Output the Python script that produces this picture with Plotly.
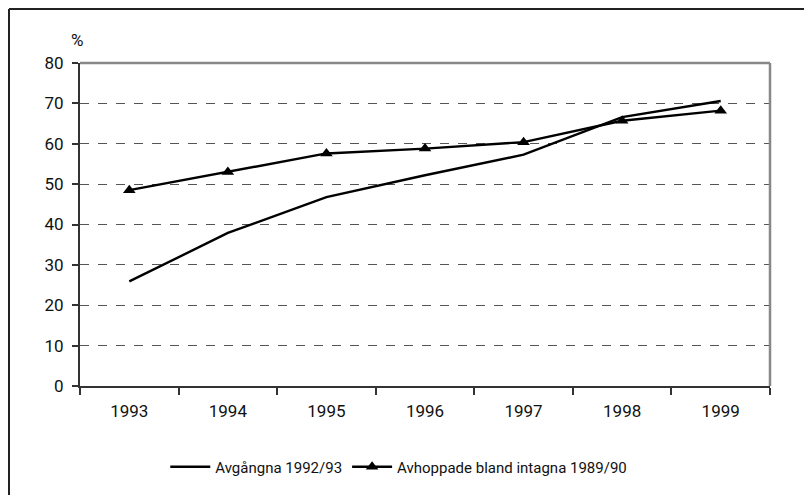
import plotly.graph_objects as go

years = ["1993", "1994", "1995", "1996", "1997", "1998", "1999"]
avgangna = [25.9, 37.9, 46.8, 52.2, 57.3, 66.6, 70.6]
avhoppade = [48.5, 53.0, 57.6, 58.8, 60.4, 65.7, 68.2]
y_ticks = [0, 10, 20, 30, 40, 50, 60, 70, 80]

FONT = "Roboto, Liberation Sans, sans-serif"

fig = go.Figure()
fig.add_trace(go.Scatter(
    x=years, y=avgangna, mode="lines", name="Avgångna 1992/93",
    line=dict(color="black", width=2.4),
))
fig.add_trace(go.Scatter(
    x=years, y=avhoppade, mode="lines+markers", name="Avhoppade bland intagna 1989/90",
    line=dict(color="black", width=2.4),
    marker=dict(symbol="triangle-up", size=11, color="black"),
))

fig.update_layout(
    width=804, height=487,
    margin=dict(l=72, r=42, t=55, b=109),
    paper_bgcolor="white", plot_bgcolor="white",
    font=dict(family=FONT, size=17, color="#111"),
    showlegend=True,
    legend=dict(orientation="h", x=0.462, xanchor="center", y=-0.251, yanchor="middle",
                font=dict(size=15), itemwidth=40, tracegroupgap=0),
    xaxis=dict(
        type="category", range=[-0.5, 6.5],
        showline=True, linecolor="#333", linewidth=2,
        ticks="outside", tickson="boundaries", ticklen=7, tickcolor="#333", tickwidth=1.5,
        showgrid=False, zeroline=False, ticklabelstandoff=9,
    ),
    yaxis=dict(
        range=[0, 80], tickvals=y_ticks,
        showline=True, linecolor="#333", linewidth=2,
        ticks="outside", ticklen=6, tickcolor="#333", tickwidth=1.5,
        showgrid=True, gridcolor="#555", griddash="dash", gridwidth=1,
        zeroline=False, ticklabelstandoff=5,
    ),
    shapes=[
        dict(type="line", xref="x domain", yref="y domain", x0=0, x1=1, y0=1, y1=1,
             line=dict(color="#888", width=2.5)),
        dict(type="line", xref="x domain", yref="y domain", x0=1, x1=1, y0=0, y1=1,
             line=dict(color="#888", width=2.5)),
        dict(type="line", xref="paper", yref="paper", x0=-0.1029, x1=1.2, y0=1.1672, y1=1.1672,
             line=dict(color="#222", width=2)),
        dict(type="line", xref="paper", yref="paper", x0=-0.1029, x1=-0.1029, y0=-0.5, y1=1.1672,
             line=dict(color="#222", width=2)),
    ],
    annotations=[
        dict(text="%", xref="paper", yref="paper", x=-0.0043, y=1.071, xanchor="center",
             yanchor="middle", showarrow=False, font=dict(size=17)),
    ],
)

fig.write_html("out.html")
